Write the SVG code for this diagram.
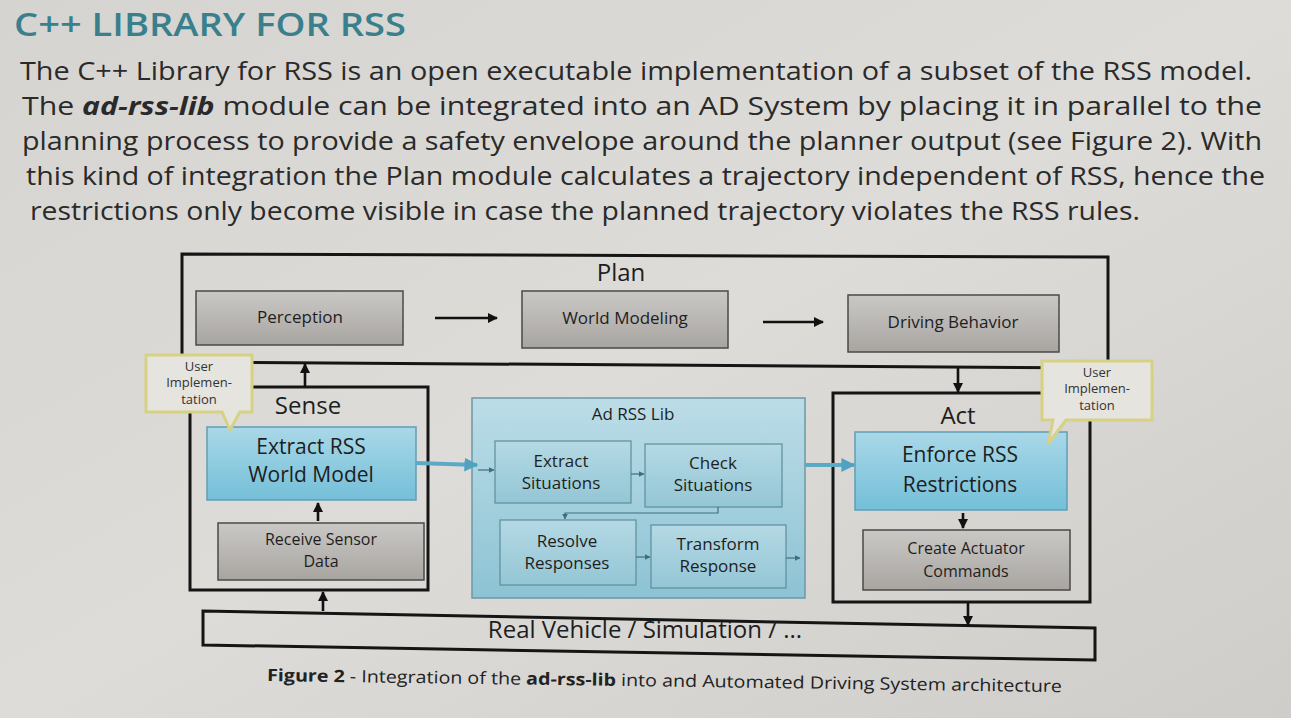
<svg xmlns="http://www.w3.org/2000/svg" width="1291" height="718" viewBox="0 0 1291 718">
<defs>
<linearGradient id="bg" x1="0" y1="0" x2="1" y2="1"><stop offset="0" stop-color="#d6d4d1"/><stop offset="0.5" stop-color="#dedcd9"/><stop offset="1" stop-color="#cfcdca"/></linearGradient>
<linearGradient id="gray" x1="0" y1="0" x2="0" y2="1"><stop offset="0" stop-color="#cac8c5"/><stop offset="1" stop-color="#a8a5a1"/></linearGradient>
<linearGradient id="blue" x1="0" y1="0" x2="0" y2="1"><stop offset="0" stop-color="#a9d8e8"/><stop offset="1" stop-color="#74bfd8"/></linearGradient>
<linearGradient id="lib" x1="0" y1="0" x2="0" y2="1"><stop offset="0" stop-color="#bcdde7"/><stop offset="1" stop-color="#8dc3d4"/></linearGradient>
<linearGradient id="libin" x1="0" y1="0" x2="0" y2="1"><stop offset="0" stop-color="#b4d9e4"/><stop offset="1" stop-color="#94c6d5"/></linearGradient>
<marker id="ah" viewBox="0 0 10 10" refX="9" refY="5" markerWidth="4" markerHeight="4" orient="auto"><path d="M0,0 L10,5 L0,10 z" fill="#111"/></marker>
<marker id="ahs" viewBox="0 0 10 10" refX="9" refY="5" markerWidth="5" markerHeight="5" orient="auto"><path d="M0,0 L10,5 L0,10 z" fill="#3f6f7e"/></marker>
<marker id="ahb" viewBox="0 0 10 10" refX="9" refY="5" markerWidth="3.5" markerHeight="3.5" orient="auto"><path d="M0,0 L10,5 L0,10 z" fill="#4fa3c1"/></marker>
</defs>
<style>
text{font-family:"Open Sans","Noto Sans","Liberation Sans",sans-serif;fill:#1e1e1e}
.para{font-size:25px;fill:#2a2a2a}
.frame{fill:none;stroke:#151515;stroke-width:3}
.gbox{fill:url(#gray);stroke:#4a4a4a;stroke-width:1.5}
.bbox{fill:url(#blue);stroke:#5f9fb5;stroke-width:1.5}
.lbox{fill:url(#libin);stroke:#5d8e9c;stroke-width:1.2}
.call{fill:#e6e4df;stroke:#d6d183;stroke-width:3}
.ct{font-size:13px;fill:#333;text-anchor:middle}
.mid{text-anchor:middle}
.arr{stroke:#111;stroke-width:2.6;fill:none;marker-end:url(#ah)}
.sarr{stroke:#3f6f7e;stroke-width:1.2;fill:none;marker-end:url(#ahs)}
.barr{stroke:#5aaac6;stroke-width:4;fill:none;marker-end:url(#ahb)}
</style>
<rect width="1291" height="718" fill="url(#bg)"/>
<text x="14" y="36" font-size="32" font-weight="600" style="fill:#3a7f8c" textLength="392" lengthAdjust="spacingAndGlyphs">C++ LIBRARY FOR RSS</text>
<text class="para" x="20" y="80" textLength="1232" lengthAdjust="spacingAndGlyphs">The C++ Library for RSS is an open executable implementation of a subset of the RSS model.</text>
<text class="para" x="22" y="115" textLength="1240" lengthAdjust="spacingAndGlyphs">The <tspan font-weight="bold" font-style="italic">ad-rss-lib</tspan> module can be integrated into an AD System by placing it in parallel to the</text>
<text class="para" x="22" y="150" textLength="1240" lengthAdjust="spacingAndGlyphs">planning process to provide a safety envelope around the planner output (see Figure 2). With</text>
<text class="para" x="26" y="185" textLength="1239" lengthAdjust="spacingAndGlyphs">this kind of integration the Plan module calculates a trajectory independent of RSS, hence the</text>
<text class="para" x="30" y="220" textLength="1110" lengthAdjust="spacingAndGlyphs">restrictions only become visible in case the planned trajectory violates the RSS rules.</text>

<g id="plan">
<path class="frame" d="M182,362 L182,254 L1108,257 L1108,368 L182,362"/>
<text class="mid" x="621" y="281" font-size="24">Plan</text>
</g>
<g id="perception"><rect class="gbox" x="196" y="291" width="207" height="54"/><text class="mid" x="300" y="323" font-size="17">Perception</text></g>
<g id="worldmodeling"><rect class="gbox" x="522" y="291" width="206" height="57"/><text class="mid" x="625" y="324" font-size="17">World Modeling</text></g>
<g id="drivingbehavior"><rect class="gbox" x="848" y="295" width="211" height="57"/><text class="mid" x="953" y="328" font-size="17">Driving Behavior</text></g>

<g id="sense">
<rect class="frame" x="190" y="387" width="238" height="203"/>
<text class="mid" x="308" y="414" font-size="24">Sense</text>
</g>
<g id="extractworld"><rect class="bbox" x="207" y="427" width="209" height="73"/><text class="mid" x="311" y="454" font-size="21">Extract RSS</text><text class="mid" x="311" y="482" font-size="21">World Model</text></g>
<g id="receivesensor"><rect class="gbox" x="218" y="523" width="206" height="57"/><text class="mid" x="321" y="545" font-size="16">Receive Sensor</text><text class="mid" x="321" y="567" font-size="16">Data</text></g>

<g id="adrsslib">
<rect x="472" y="398" width="333" height="200" fill="url(#lib)" stroke="#6c98a5" stroke-width="1.5"/>
<text class="mid" x="633" y="420" font-size="17">Ad RSS Lib</text>
</g>
<g id="extractsit"><rect class="lbox" x="495" y="441" width="136" height="62"/><text class="mid" x="561" y="467" font-size="17">Extract</text><text class="mid" x="561" y="489" font-size="17">Situations</text></g>
<g id="checksit"><rect class="lbox" x="645" y="444" width="137" height="63"/><text class="mid" x="713" y="469" font-size="17">Check</text><text class="mid" x="713" y="491" font-size="17">Situations</text></g>
<g id="resolve"><rect class="lbox" x="500" y="520" width="136" height="65"/><text class="mid" x="567" y="547" font-size="17">Resolve</text><text class="mid" x="567" y="569" font-size="17">Responses</text></g>
<g id="transform"><rect class="lbox" x="651" y="525" width="135" height="63"/><text class="mid" x="718" y="550" font-size="17">Transform</text><text class="mid" x="718" y="572" font-size="17">Response</text></g>

<g id="act">
<rect class="frame" x="833" y="393" width="257" height="209"/>
<text class="mid" x="958" y="424" font-size="24">Act</text>
</g>
<g id="enforce"><rect class="bbox" x="855" y="432" width="212" height="78"/><text class="mid" x="960" y="462" font-size="21">Enforce RSS</text><text class="mid" x="960" y="492" font-size="21">Restrictions</text></g>
<g id="createact"><rect class="gbox" x="863" y="530" width="207" height="60"/><text class="mid" x="966" y="554" font-size="16">Create Actuator</text><text class="mid" x="966" y="577" font-size="16">Commands</text></g>

<g id="realvehicle">
<path class="frame" d="M203,611 L1095,628 L1095,660 L203,645 Z" stroke-width="2.5"/>
<text class="mid" x="645" y="638" font-size="24">Real Vehicle / Simulation / ...</text>
</g>

<g id="callout-left">
<path class="call" d="M146,355 L252,355 L252,412 L240,412 L230,430 L222,412 L146,412 Z"/>
<text class="ct" x="199" y="371">User</text><text class="ct" x="199" y="387">Implemen-</text><text class="ct" x="199" y="404">tation</text>
</g>
<g id="callout-right">
<path class="call" d="M1042,361 L1152,361 L1152,420 L1066,420 L1048,444 L1053,420 L1042,420 Z"/>
<text class="ct" x="1097" y="377">User</text><text class="ct" x="1097" y="393">Implemen-</text><text class="ct" x="1097" y="410">tation</text>
</g>

<g id="connectors">
<line class="arr" x1="435" y1="318" x2="497" y2="318"/>
<line class="arr" x1="763" y1="322" x2="823" y2="322"/>
<line class="arr" x1="305" y1="387" x2="305" y2="364"/>
<line class="arr" x1="958" y1="368" x2="958" y2="392"/>
<line class="arr" x1="318" y1="521" x2="318" y2="503"/>
<line class="arr" x1="963" y1="513" x2="963" y2="528"/>
<line class="arr" x1="323" y1="611" x2="323" y2="592"/>
<line class="arr" x1="968" y1="603" x2="968" y2="625"/>
<line class="barr" x1="416" y1="463" x2="477" y2="465"/>
<line class="sarr" x1="478" y1="470" x2="494" y2="470"/>
<line class="sarr" x1="631" y1="474" x2="644" y2="474"/>
<polyline class="sarr" points="718,507 718,513 565,513 565,519"/>
<line class="sarr" x1="636" y1="557" x2="650" y2="557"/>
<line class="sarr" x1="786" y1="558" x2="800" y2="558"/>
<line class="barr" x1="805" y1="465" x2="854" y2="465"/>
</g>

<text x="267" y="681" font-size="17" style="fill:#222" transform="rotate(0.8 267 681)" textLength="795" lengthAdjust="spacingAndGlyphs"><tspan font-weight="bold">Figure 2</tspan> - Integration of the <tspan font-weight="bold">ad-rss-lib</tspan> into and Automated Driving System architecture</text>
</svg>
